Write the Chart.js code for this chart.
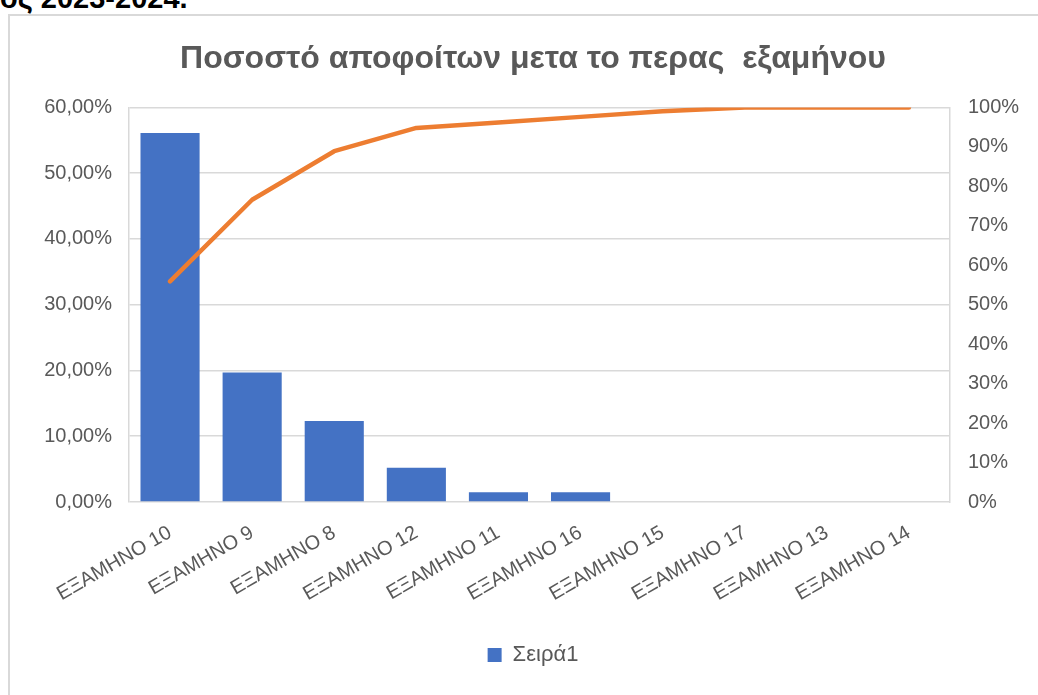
<!DOCTYPE html>
<html>
<head>
<meta charset="utf-8">
<script src="https://cdn.jsdelivr.net/npm/chart.js@4"></script>
<style>
  html, body { margin: 0; padding: 0; background: #ffffff; overflow: hidden; }
  body { width: 1038px; height: 695px; position: relative; }
  #heading { position: absolute; left: 0px; top: -16px; font: bold 29px "Liberation Sans", Arial, sans-serif; line-height: 28px; color: #000; white-space: nowrap; }
  #frame { position: absolute; left: 8px; top: 14px; width: 1060px; height: 700px; border: 2px solid #d9d9d9; box-sizing: border-box; }
  #wrap { position: absolute; left: 0; top: 0; width: 1066px; height: 695px; }
</style>
</head>
<body>
<div id="heading">ος 2023-2024.</div>
<div id="frame"></div>
<div id="wrap"><canvas id="c" width="1066" height="695"></canvas></div>
<script>
const categories = ['ΕΞΑΜΗΝΟ 10','ΕΞΑΜΗΝΟ 9','ΕΞΑΜΗΝΟ 8','ΕΞΑΜΗΝΟ 12','ΕΞΑΜΗΝΟ 11','ΕΞΑΜΗΝΟ 16','ΕΞΑΜΗΝΟ 15','ΕΞΑΜΗΝΟ 17','ΕΞΑΜΗΝΟ 13','ΕΞΑΜΗΝΟ 14'];
const shareValues = [0.561, 0.197, 0.123, 0.052, 0.015, 0.015, 0, 0, 0, 0];
const cumulativeValues = [0.559, 0.766, 0.889, 0.948, 0.962, 0.976, 0.990, 1.0, 1.0, 1.0];
const leftTicks = [0, 0.1, 0.2, 0.3, 0.4, 0.5, 0.6];
const rightTicks = [0, 0.1, 0.2, 0.3, 0.4, 0.5, 0.6, 0.7, 0.8, 0.9, 1.0];

const grey = '#595959';
const fontFam = '"Liberation Sans", Arial, sans-serif';

new Chart(document.getElementById('c'), {
  data: {
    labels: categories,
    datasets: [
      {
        type: 'line',
        label: 'Σωρευτικό',
        data: cumulativeValues,
        yAxisID: 'y1',
        borderColor: '#ED7D31',
        backgroundColor: '#ED7D31',
        borderWidth: 4.5,
        pointRadius: 0,
        tension: 0,
        borderCapStyle: 'round',
        borderJoinStyle: 'round',
        order: 0
      },
      {
        type: 'bar',
        label: 'Σειρά1',
        data: shareValues,
        yAxisID: 'y',
        backgroundColor: '#4472C4',
        borderWidth: 0,
        categoryPercentage: 1.0,
        barPercentage: 0.72,
        order: 1
      }
    ]
  },
  options: {
    responsive: false,
    animation: false,
    devicePixelRatio: 1,
    layout: { padding: { top: 15, bottom: 19, left: 0, right: 0 } },
    plugins: {
      tooltip: { enabled: false },
      title: {
        display: true,
        text: 'Ποσοστό αποφοίτων μετα το περας  εξαμήνου',
        color: grey,
        font: { family: fontFam, size: 32, weight: 'bold', lineHeight: 1.2 },
        padding: { top: 25, bottom: 29 }
      },
      legend: {
        position: 'bottom',
        labels: {
          filter: (item) => item.text === 'Σειρά1',
          color: grey,
          font: { family: fontFam, size: 22 },
          boxWidth: 14,
          boxHeight: 14,
          padding: 9
        }
      }
    },
    scales: {
      x: {
        offset: true,
        grid: { display: false, drawTicks: false },
        border: { display: false },
        ticks: {
          autoSkip: false,
          maxRotation: 30,
          minRotation: 30,
          color: grey,
          padding: 19,
          font: { family: fontFam, size: 20 }
        },
        afterFit: (s) => { s.height = 133; }
      },
      y: {
        position: 'left',
        min: 0,
        max: 0.6,
        afterBuildTicks: (s) => { s.ticks = leftTicks.map(v => ({ value: v })); },
        grid: { color: '#d9d9d9', lineWidth: 1.5, drawTicks: false },
        border: { display: true, color: '#d9d9d9', width: 1.5 },
        ticks: {
          color: grey,
          padding: 17,
          font: { family: fontFam, size: 20 },
          callback: (v) => (v * 100).toFixed(2).replace('.', ',') + '%'
        },
        afterFit: (s) => { s.width = 129; }
      },
      y1: {
        position: 'right',
        min: 0,
        max: 1,
        afterBuildTicks: (s) => { s.ticks = rightTicks.map(v => ({ value: v })); },
        grid: { display: false, drawTicks: false },
        border: { display: true, color: '#d9d9d9', width: 1.5 },
        ticks: {
          color: grey,
          padding: 18,
          font: { family: fontFam, size: 20 },
          callback: (v) => Math.round(v * 100) + '%'
        },
        afterFit: (s) => { s.width = 116; }
      }
    }
  }
});
</script>
</body>
</html>
